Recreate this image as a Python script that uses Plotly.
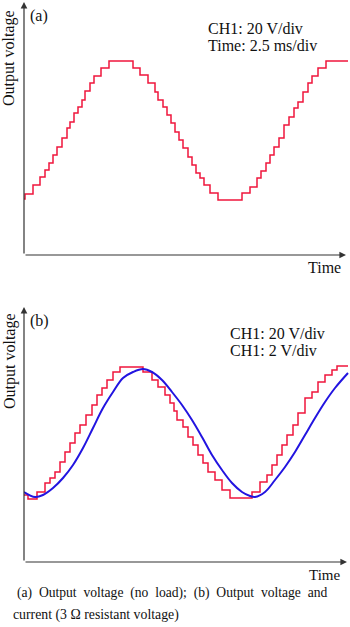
import plotly.graph_objects as go

W, H = 350, 627

# ---- data (plot units: time offset, voltage level) ----
# (a) output voltage, no load: staircase levels (start of each step)
a_time = [0, 1, 9, 16, 21, 25, 29, 33, 38, 43, 46, 50, 54, 58, 61, 66, 70, 77, 85, 109,
          116, 124, 131, 134, 139, 143, 147, 151, 155, 159, 164, 168, 172, 176, 180, 186, 194, 218, 226, 233,
          237, 242, 246, 250, 255, 260, 265, 270, 274, 279, 284, 288, 294, 302, 324]
a_volt = [56, 61, 70, 78, 85, 92, 100, 108, 117, 127, 133, 142, 148, 155, 164, 172, 179, 187, 194, 187,
          180, 172, 163, 155, 148, 140, 132, 123, 115, 107, 98, 90, 82, 77, 70, 62, 55, 62, 68, 77,
          84, 92, 100, 108, 117, 130, 138, 147, 153, 163, 172, 179, 187, 194, 194]

# (b) output voltage (red, staircase)
b_v_time = [0, 4, 13, 21, 26, 31, 36, 41, 46, 51, 56, 62, 68, 73, 78, 83, 89, 96, 119, 128,
            134, 141, 146, 150, 153, 159, 164, 169, 174, 179, 184, 191, 198, 206, 228, 236, 243, 248, 253, 258,
            263, 269, 274, 281, 288, 294, 301, 308, 313, 324]
b_v_volt = [67, 63, 70, 79, 84, 90, 100, 110, 119, 129, 137, 147, 157, 167, 174, 182, 190, 195, 190, 182,
            175, 167, 159, 151, 142, 135, 125, 117, 107, 99, 90, 82, 72, 64, 70, 80, 87, 97, 107, 117,
            127, 137, 149, 164, 170, 180, 187, 192, 196, 196]

# (b) current (blue, 3 ohm resistor voltage)
b_i_time = [0, 11, 19, 29, 39, 49, 59, 69, 79, 89, 99, 109, 119, 128, 138, 148, 158, 168, 178, 188,
            198, 208, 218, 226, 231, 241, 251, 261, 271, 281, 291, 301, 311, 324]
b_i_volt = [70, 65, 67, 74, 84, 97, 114, 134, 154, 170, 184, 190, 193, 190, 182, 170, 157, 142, 125, 107,
            92, 79, 70, 66, 65, 70, 82, 95, 110, 127, 144, 160, 174, 189]

RED = "#f0163c"
BLUE = "#2214e0"
AX = "#333333"
FONT = "Liberation Serif"


def px(x):
    return x / W


def py(y):
    return 1 - y / H


fig = go.Figure()
fig.add_trace(go.Scatter(x=a_time, y=a_volt, mode="lines", line=dict(color=RED, width=1.5, shape="hv"),
                         xaxis="x", yaxis="y", hoverinfo="skip"))
fig.add_trace(go.Scatter(x=b_v_time, y=b_v_volt, mode="lines", line=dict(color=RED, width=1.5, shape="hv"),
                         xaxis="x2", yaxis="y2", hoverinfo="skip"))
fig.add_trace(go.Scatter(x=b_i_time, y=b_i_volt, mode="lines", line=dict(color=BLUE, width=2, shape="spline"),
                         xaxis="x2", yaxis="y2", hoverinfo="skip"))

hidden = dict(visible=False, fixedrange=True)
fig.update_layout(
    width=W, height=H, margin=dict(l=0, r=0, t=0, b=0),
    paper_bgcolor="white", plot_bgcolor="rgba(0,0,0,0)", showlegend=False,
    xaxis=dict(domain=[px(24), 1], range=[0, 326], anchor="y", **hidden),
    yaxis=dict(domain=[py(255), 1], range=[0, 255], anchor="x", **hidden),
    xaxis2=dict(domain=[px(24), 1], range=[0, 326], anchor="y2", **hidden),
    yaxis2=dict(domain=[py(562), py(300)], range=[0, 262], anchor="x2", **hidden),
)

ann = []


def arrow(hx, hy, ax, ay):
    ann.append(dict(x=px(hx), y=py(hy), xref="paper", yref="paper", ax=ax, ay=ay,
                    axref="pixel", ayref="pixel", text="", showarrow=True,
                    arrowhead=2, arrowsize=1.1, arrowwidth=1.2, arrowcolor=AX, standoff=0))


def text(t, x, y, size=16, xanchor="left", angle=0):
    ann.append(dict(x=px(x), y=py(y), xref="paper", yref="paper", text=t, showarrow=False,
                    xanchor=xanchor, yanchor="middle", textangle=angle, borderpad=0,
                    font=dict(family=FONT, size=size, color="#111")))


# axes (a)
arrow(346, 255, -322, 0)
arrow(24, 2, 0, 253)
# axes (b)
arrow(347, 562, -323, 0)
arrow(24, 307, 0, 255)

text("(a)", 29, 16)
text("CH1: 20 V/div", 207, 29)
text("Time: 2.5 ms/div", 207, 46)
text("Output voltage", 9, 58, xanchor="center", angle=-90)
text("Time", 307, 268)

text("(b)", 29, 321)
text("CH1: 20 V/div", 229, 333)
text("CH1: 2 V/div", 229, 350)
text("Output voltage", 10, 361, xanchor="center", angle=-90)
text("Time", 308, 575, size=15)

sp = "\u00a0\u00a0"
line1 = sp.join("(a) Output voltage (no load); (b) Output voltage and".split(" "))
text(line1, 16, 593, size=13.6)
text("current (3 Ω resistant voltage)", 12, 615, size=13.8)

fig.update_layout(annotations=ann)
fig.write_html("out.html")
